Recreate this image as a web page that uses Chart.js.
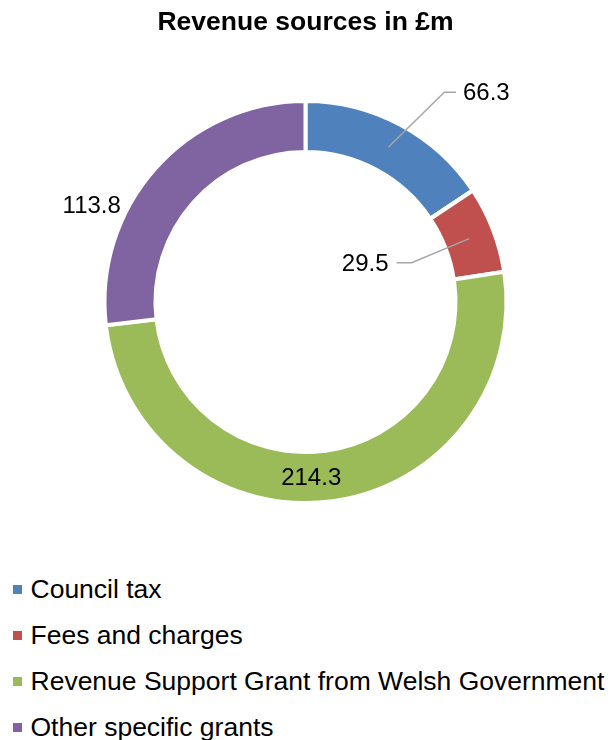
<!DOCTYPE html>
<html>
<head>
<meta charset="utf-8">
<title>Revenue sources in £m</title>
<script src="https://cdn.jsdelivr.net/npm/chart.js@4.4.1/dist/chart.umd.min.js"></script>
<style>
    body { margin: 0; background: #fff; font-family: "Liberation Sans", Arial, sans-serif; }
    #wrap { position: relative; width: 611px; height: 740px; }
    #legend { position: absolute; left: 0; top: 566px; margin: 0; padding: 0; list-style: none; }
    #legend li { position: relative; height: 46px; line-height: 46px; font-size: 26.5px; color: #000; padding-left: 30.5px; white-space: nowrap; }
    #legend li span { position: absolute; left: 13px; top: 18.5px; width: 9px; height: 9px; }
</style>
</head>
<body>
<div id="wrap">
    <canvas id="revenueChart" width="611" height="560"></canvas>
    <ul id="legend"></ul>
</div>
<script>
// Data
const categories = ['Council tax', 'Fees and charges', 'Revenue Support Grant from Welsh Government', 'Other specific grants'];
const revenueValues = [66.3, 29.5, 214.3, 113.8];
const sliceColors = ['#4F81BD', '#C0504D', '#9BBB59', '#8064A2'];

const fontFamily = '"Liberation Sans", Arial, sans-serif';

// Where each value label goes, relative to the doughnut centre (px)
// line: elbow point and end of the horizontal part of the leader line
const labelSpots = [
    { dx: 157.5, dy: -208.7, align: 'left', line: [[138.8, -209.7], [150.5, -209.7]] },
    { dx: 83, dy: -38, align: 'right', line: [[106.2, -39.3], [91.2, -39.3]] },
    { dx: 5.7, dy: 176, align: 'center' },
    { dx: -213.8, dy: -96, align: 'center' }
];

// Draws value labels and leader lines
const valueLabels = {
    id: 'valueLabels',
    afterDatasetsDraw(chart) {
        const ctx = chart.ctx;
        const meta = chart.getDatasetMeta(0);
        ctx.save();
        meta.data.forEach((arc, i) => {
            const spot = labelSpots[i];
            const cx = arc.x, cy = arc.y;
            if (spot.line) {
                const mid = arc.tooltipPosition();
                ctx.beginPath();
                ctx.moveTo(mid.x, mid.y);
                spot.line.forEach(p => ctx.lineTo(cx + p[0], cy + p[1]));
                ctx.strokeStyle = '#A6A6A6';
                ctx.lineWidth = 1.5;
                ctx.stroke();
            }
            ctx.font = '24px ' + fontFamily;
            ctx.fillStyle = '#000';
            ctx.textAlign = spot.align;
            ctx.textBaseline = 'middle';
            ctx.fillText(revenueValues[i].toFixed(1), cx + spot.dx, cy + spot.dy);
        });
        ctx.restore();
    }
};

new Chart(document.getElementById('revenueChart'), {
    type: 'doughnut',
    data: {
        labels: categories,
        datasets: [{
            data: revenueValues,
            backgroundColor: sliceColors,
            borderColor: '#ffffff',
            borderWidth: 4,
            hoverOffset: 0
        }]
    },
    options: {
        responsive: false,
        animation: false,
        radius: 201,
        cutout: '74.63%',
        events: [],
        plugins: {
            legend: { display: false },
            tooltip: { enabled: false },
            title: {
                display: true,
                text: 'Revenue sources in £m',
                color: '#000',
                font: { family: fontFamily, size: 26.5, weight: 'bold' },
                padding: { top: 6.6, bottom: 5.6 }
            }
        }
    },
    plugins: [valueLabels]
});

// Legend as a plain list, one entry per line
const legend = document.getElementById('legend');
categories.forEach((name, i) => {
    const li = document.createElement('li');
    const box = document.createElement('span');
    box.style.background = sliceColors[i];
    li.appendChild(box);
    li.appendChild(document.createTextNode(name));
    legend.appendChild(li);
});
</script>
</body>
</html>
